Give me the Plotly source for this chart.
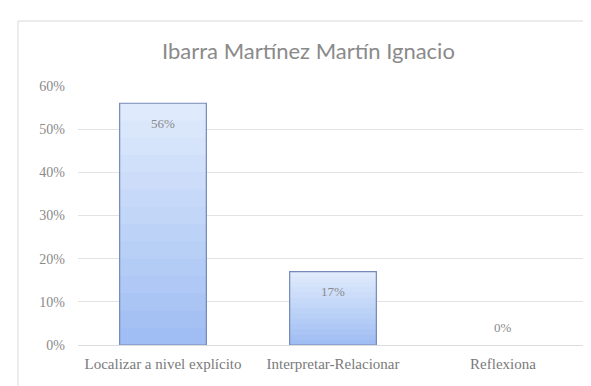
import plotly.graph_objects as go

categories = ["Localizar a nivel explícito", "Interpretar-Relacionar", "Reflexiona"]
values = [0.56, 0.17, 0.0]
value_labels = ["56%", "17%", "0%"]
y_ticks = [0, 0.1, 0.2, 0.3, 0.4, 0.5, 0.6]
y_tick_labels = ["0%", "10%", "20%", "30%", "40%", "50%", "60%"]
title_text = "Ibarra Martínez Martín Ignacio"

W, H = 591, 386
L, R, T, B = 70, 11, 78, 49
pw, ph = W - L - R, H - T - B

def px_x(px):
    return (px - L) / pw

def px_y(py):
    return (H - B - py) / ph

# gradient colours (light top -> darker bottom)
top_c = (223, 234, 252)
bot_c = (160, 190, 243)
N = 14

fig = go.Figure()
for k in range(N):
    f = k / N
    t = k / (N - 1)
    c = tuple(int(round(top_c[i] + (bot_c[i] - top_c[i]) * t)) for i in range(3))
    fig.add_trace(go.Bar(
        x=categories,
        y=[v * (1 - f) if v > 0 else None for v in values],
        marker=dict(color="rgb(%d,%d,%d)" % c, line=dict(width=0)),
        hoverinfo="skip",
        showlegend=False,
    ))
# outline
fig.add_trace(go.Bar(
    x=categories,
    y=[v if v > 0 else None for v in values],
    marker=dict(color="rgba(0,0,0,0)", line=dict(color="#7589b8", width=1.2)),
    showlegend=False,
))

for cat, v, lab in zip(categories, values, value_labels):
    fig.add_annotation(
        x=cat, y=v, text=lab, showarrow=False,
        yshift=-20 if v > 0 else 18,
        font=dict(family="Liberation Serif", size=13, color="#8a8a8a"),
    )

fig.add_annotation(
    xref="paper", yref="paper", x=px_x(300), y=px_y(42),
    text=title_text, showarrow=False, xanchor="center", yanchor="middle",
    font=dict(family="Lato", size=22, color="#8a8a8a"),
)

fig.add_shape(
    type="rect", xref="paper", yref="paper",
    x0=px_x(10), x1=px_x(589), y0=px_y(383), y1=px_y(13),
    line=dict(color="#d9d9d9", width=1), layer="below",
)

fig.update_layout(
    width=W, height=H,
    margin=dict(l=L, r=R, t=T, b=B),
    paper_bgcolor="white", plot_bgcolor="white",
    barmode="overlay", bargap=0.49,
    showlegend=False,
)
fig.update_xaxes(
    showgrid=False, showline=False, ticks="",
    tickfont=dict(family="Liberation Serif", size=15, color="#7a7a7a"),
    ticklabelstandoff=8,
)
fig.update_yaxes(
    range=[0, 0.6], tickvals=y_ticks, ticktext=y_tick_labels,
    showgrid=True, gridcolor="#e3e3e3", gridwidth=1,
    zeroline=True, zerolinecolor="#dcdcdc", zerolinewidth=1,
    showline=False, ticks="",
    tickfont=dict(family="Liberation Serif", size=14, color="#8a8a8a"),
    ticklabelstandoff=12,
)

fig.write_html("out.html")
